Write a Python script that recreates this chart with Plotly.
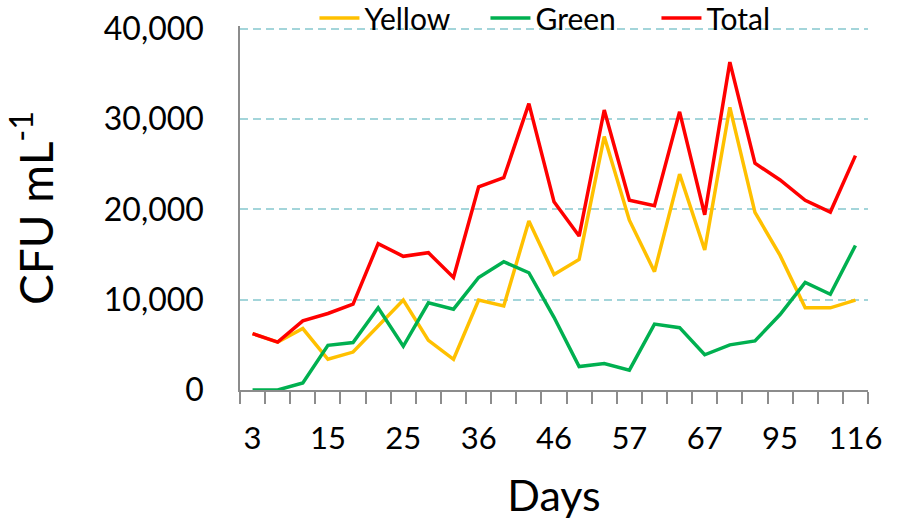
import plotly.graph_objects as go

days = [3, 7, 11, 15, 18, 22, 25, 29, 32, 36, 39, 43, 46, 50, 53, 57, 60, 64, 67, 74, 81, 95, 102, 109, 116]
yellow = [6250, 5300, 6800, 3400, 4200, 7060, 9950, 5500, 3400, 9950, 9300, 18700, 12800,
          14450, 28060, 18800, 13100, 23900, 15500, 31300, 19670, 14900, 9100, 9100, 9950]
green = [0, 0, 780, 4950, 5250, 9100, 4840, 9650, 8950, 12460, 14200, 12980, 8050,
         2600, 2940, 2200, 7300, 6900, 3900, 5000, 5430, 8350, 11900, 10600, 16000]
total = [6250, 5300, 7650, 8470, 9500, 16200, 14800, 15200, 12460, 22500, 23500, 31700, 20850,
         17040, 31000, 21000, 20400, 30800, 19400, 36300, 25100, 23250, 21000, 19700, 25950]
label_every = 3
series = [("Yellow", yellow, "#FFC000"), ("Green", green, "#00B050"), ("Total", total, "#FF0000")]

idx = list(range(len(days)))
fig = go.Figure()
for name, vals, col in series:
    fig.add_trace(go.Scatter(x=idx, y=vals, name=name, mode="lines",
                             line=dict(color=col, width=3.5)))

FONT = "Lato"
axis_col = "#8C8C8C"
fig.update_layout(
    width=903, height=522,
    margin=dict(l=240, r=35, t=26, b=132, autoexpand=False),
    paper_bgcolor="white", plot_bgcolor="white",
    font=dict(family=FONT, color="black", size=31),
    showlegend=True,
    legend=dict(orientation="h", x=0.527, xanchor="center", y=1.022, yanchor="middle",
                font=dict(size=30, family=FONT), bgcolor="rgba(0,0,0,0)",
                entrywidth=116, itemwidth=40),
    xaxis=dict(
        range=[-0.5, len(days) - 0.5],
        automargin=False,
        tickmode="array",
        tickvals=idx[::label_every],
        ticktext=[str(d) for d in days[::label_every]],
        ticks="outside", ticklen=20, tickcolor="rgba(0,0,0,0)",
        tickfont=dict(size=31, family=FONT),
        showline=True, linecolor=axis_col, linewidth=1.5,
        showgrid=False, zeroline=False,
        minor=dict(tickmode="array", tickvals=[i - 0.5 for i in range(len(days) + 1)],
                   ticks="outside", ticklen=12, tickcolor=axis_col, tickwidth=1.5,
                   showgrid=False),
        title=dict(text="Days", font=dict(size=43, family=FONT), standoff=26),
    ),
    yaxis=dict(
        range=[0, 40300],
        automargin=False,
        tickmode="array",
        tickvals=[0, 10000, 20000, 30000, 40000],
        ticktext=["0", "10,000", "20,000", "30,000", "40,000"],
        ticks="outside", ticklen=28, tickcolor="rgba(0,0,0,0)",
        tickfont=dict(size=32, family=FONT),
        showline=True, linecolor=axis_col, linewidth=1.5,
        showgrid=True, gridcolor="#A3D5DA", gridwidth=1.5, griddash="8px,5px",
        zeroline=False,
        title=dict(text="CFU mL<sup>-1</sup>", font=dict(size=46, family=FONT), standoff=36),
    ),
)
fig.write_html("out.html", config={"displayModeBar": False},
               post_script="document.body.style.margin='0';")
